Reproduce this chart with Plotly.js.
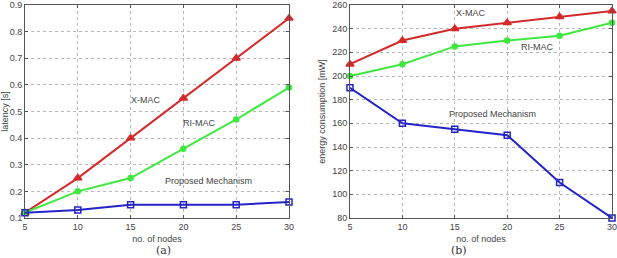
<!DOCTYPE html>
<html><head><meta charset="utf-8">
<script src="https://cdn.plot.ly/plotly-3.0.1.min.js"></script>
<style>html,body{margin:0;padding:0;background:#fff}</style>
</head><body><div id="chart" style="width:617px;height:258px"></div>
<script>
const nodes = [5, 10, 15, 20, 25, 30];
const latXMAC = [0.12, 0.25, 0.40, 0.55, 0.70, 0.85];
const latRIMAC = [0.12, 0.20, 0.25, 0.36, 0.47, 0.59];
const latProposed = [0.12, 0.13, 0.15, 0.15, 0.15, 0.16];
const enXMAC = [210, 230, 240, 245, 250, 255];
const enRIMAC = [200, 210, 225, 230, 234, 245];
const enProposed = [190, 160, 155, 150, 110, 80];
const xTicks = [5, 10, 15, 20, 25, 30];
const latTicks = [0.1, 0.2, 0.3, 0.4, 0.5, 0.6, 0.7, 0.8, 0.9];
const enTicks = [80, 100, 120, 140, 160, 180, 200, 220, 240, 260];

const RED = '#d42a2a', GREEN = '#3ee83e', BLUE = '#2424c8';
const F = 'Liberation Sans, Arial, sans-serif';

function tr(x, y, color, symbol, size, xa, ya) {
  return {x: x, y: y, type: 'scatter', mode: 'lines+markers', xaxis: xa, yaxis: ya,
    line: {color: color, width: 2}, cliponaxis: false,
    marker: {symbol: symbol, size: size, color: color, line: {color: color, width: 1.5}},
    showlegend: false, hoverinfo: 'skip'};
}

const data = [
  tr(nodes, latXMAC, RED, 'triangle-up', 7, 'x', 'y'),
  tr(nodes, latRIMAC, GREEN, 'circle', 5, 'x', 'y'),
  tr(nodes, latProposed, BLUE, 'square-open', 6, 'x', 'y'),
  tr(nodes, enXMAC, RED, 'triangle-up', 7, 'x2', 'y2'),
  tr(nodes, enRIMAC, GREEN, 'circle', 5, 'x2', 'y2'),
  tr(nodes, enProposed, BLUE, 'square-open', 6, 'x2', 'y2')
];

const axBase = {
  showline: true, linecolor: '#555', linewidth: 1, mirror: 'allticks',
  ticks: 'inside', ticklen: 3, tickcolor: '#555',
  showgrid: true, gridcolor: '#b8b8b8', griddash: 'dot', gridwidth: 1,
  zeroline: false, ticklabeloverflow: 'allow',
  tickfont: {family: F, size: 9, color: '#444'}
};

const layout = {
  width: 617, height: 258,
  margin: {l: 0, r: 0, t: 0, b: 0},
  paper_bgcolor: '#fff', plot_bgcolor: '#fff',
  xaxis: Object.assign({}, axBase, {domain: [25/617, 289/617], range: [5, 30], tickvals: xTicks, ticktext: xTicks.map(String), anchor: 'y',
    title: {text: 'no. of nodes', font: {family: F, size: 9, color: '#444'}, standoff: 4}}),
  yaxis: Object.assign({}, axBase, {domain: [1 - 218/258, 1 - 5/258], range: [0.1, 0.9], tickvals: latTicks, ticktext: latTicks.map(v => v.toFixed(1)), anchor: 'x',
    title: {text: 'latency [s]', font: {family: F, size: 9, color: '#444'}, standoff: 2}}),
  xaxis2: Object.assign({}, axBase, {domain: [350/617, 612/617], range: [5, 30], tickvals: xTicks, ticktext: xTicks.map(String), anchor: 'y2',
    title: {text: 'no. of nodes', font: {family: F, size: 9, color: '#444'}, standoff: 4}}),
  yaxis2: Object.assign({}, axBase, {domain: [1 - 218/258, 1 - 5/258], range: [80, 260], tickvals: enTicks, ticktext: enTicks.map(String), anchor: 'x2',
    title: {text: 'energy consumption [mW]', font: {family: F, size: 9, color: '#444'}, standoff: 5}}),
  annotations: [
    {xref: 'x', yref: 'y', x: 16.5, y: 0.543, text: 'X-MAC', showarrow: false, font: {family: F, size: 9, color: '#444'}},
    {xref: 'x', yref: 'y', x: 21.5, y: 0.457, text: 'RI-MAC', showarrow: false, font: {family: F, size: 9, color: '#444'}},
    {xref: 'x', yref: 'y', x: 22.4, y: 0.239, text: 'Proposed Mechanism', showarrow: false, font: {family: F, size: 9, color: '#444'}},
    {xref: 'x2', yref: 'y2', x: 16.5, y: 253, text: 'X-MAC', showarrow: false, font: {family: F, size: 9, color: '#444'}},
    {xref: 'x2', yref: 'y2', x: 22.8, y: 224.5, text: 'RI-MAC', showarrow: false, font: {family: F, size: 9, color: '#444'}},
    {xref: 'x2', yref: 'y2', x: 18.6, y: 168, text: 'Proposed Mechanism', showarrow: false, font: {family: F, size: 9, color: '#444'}},
    {xref: 'paper', yref: 'paper', x: 155/617, y: 1 - 250/258, text: '(a)', showarrow: false, yanchor: 'middle', borderpad: 0, font: {family: 'DejaVu Serif, serif', size: 11, color: '#333'}},
    {xref: 'paper', yref: 'paper', x: 468/617, y: 1 - 250/258, text: '(b)', showarrow: false, yanchor: 'middle', borderpad: 0, font: {family: 'DejaVu Serif, serif', size: 11, color: '#333'}}
  ]
};

Plotly.newPlot('chart', data, layout, {staticPlot: true, displayModeBar: false});
</script></body></html>
